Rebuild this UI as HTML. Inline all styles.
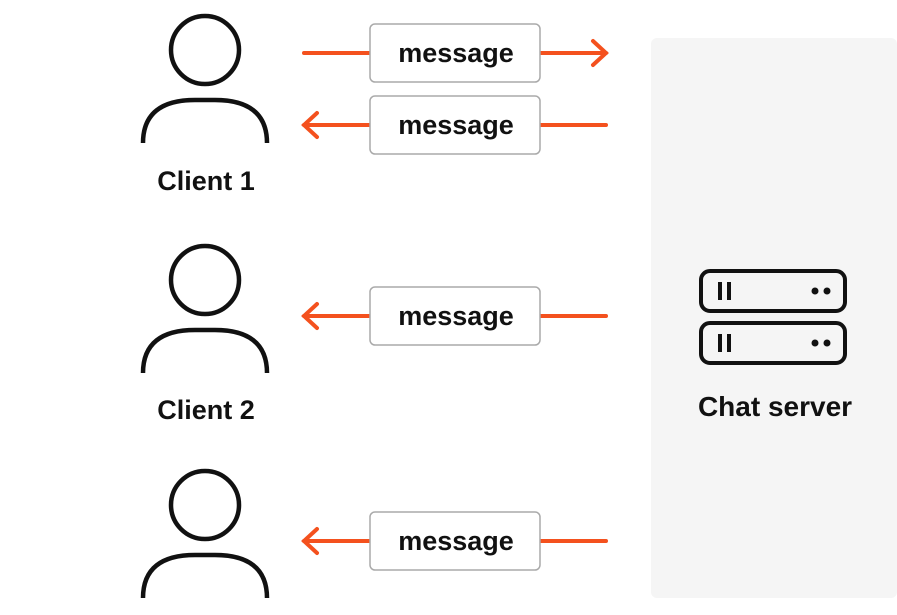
<!DOCTYPE html>
<html><head><meta charset="utf-8"><style>
html,body{margin:0;padding:0;background:#fff;}
svg{display:block;}
text{font-family:"Liberation Sans",sans-serif;font-weight:bold;fill:#111;}
</style></head><body>
<svg width="897" height="615" viewBox="0 0 897 615" xmlns="http://www.w3.org/2000/svg">
<rect x="651" y="38" width="246" height="560" rx="6" fill="#f5f5f5"/>
<defs>
<g id="person" fill="none" stroke="#111" stroke-width="4.5">
<circle cx="205" cy="0" r="34"/>
<path d="M143,93 C143,63 162,50 195,50 H215 C248,50 267,63 267,93"/>
</g>
</defs>
<use href="#person" y="50"/>
<use href="#person" y="280"/>
<use href="#person" y="505"/>
<text x="206" y="190" font-size="27" text-anchor="middle">Client 1</text>
<text x="206" y="419" font-size="27" text-anchor="middle">Client 2</text>
<g stroke="#f4511e" stroke-width="4" fill="none" stroke-linecap="round">
<line x1="304" y1="53" x2="606" y2="53"/><polyline points="593,41 606,53 593,65"/>
<line x1="304" y1="125" x2="606" y2="125"/><polyline points="317,113 304,125 317,137"/>
<line x1="304" y1="316" x2="606" y2="316"/><polyline points="317,304 304,316 317,328"/>
<line x1="304" y1="541" x2="606" y2="541"/><polyline points="317,529 304,541 317,553"/>
</g>
<g fill="#fff" stroke="#aaa" stroke-width="1.5">
<rect x="370" y="24" width="170" height="58" rx="5"/>
<rect x="370" y="96" width="170" height="58" rx="5"/>
<rect x="370" y="287" width="170" height="58" rx="5"/>
<rect x="370" y="512" width="170" height="58" rx="5"/>
</g>
<g font-size="27" text-anchor="middle">
<text x="456" y="62">message</text>
<text x="456" y="134">message</text>
<text x="456" y="325">message</text>
<text x="456" y="550">message</text>
</g>
<g fill="none" stroke="#111" stroke-width="4">
<rect x="701" y="271" width="144" height="40" rx="9"/>
<rect x="701" y="323" width="144" height="40" rx="9"/>
<line x1="720" y1="282" x2="720" y2="300"/><line x1="729" y1="282" x2="729" y2="300"/>
<line x1="720" y1="334" x2="720" y2="352"/><line x1="729" y1="334" x2="729" y2="352"/>
</g>
<g fill="#111">
<circle cx="815" cy="291" r="3.5"/><circle cx="827" cy="291" r="3.5"/>
<circle cx="815" cy="343" r="3.5"/><circle cx="827" cy="343" r="3.5"/>
</g>
<text x="775" y="416" font-size="28" text-anchor="middle">Chat server</text>
</svg>
</body></html>
